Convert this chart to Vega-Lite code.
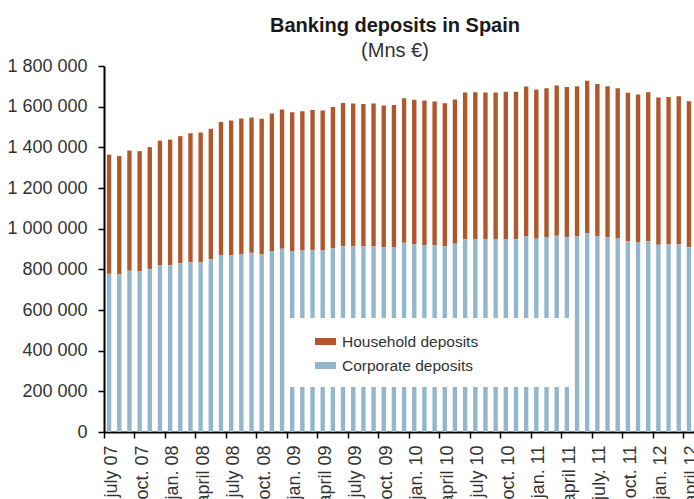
{
  "$schema": "https://vega.github.io/schema/vega-lite/v6.json",
  "autosize": "none",
  "width": 590,
  "height": 366,
  "padding": {"left": 104, "top": 66, "right": 0, "bottom": 67},
  "background": "white",
  "title": {
    "text": "Banking deposits in Spain",
    "subtitle": "(Mns €)",
    "anchor": "middle",
    "frame": "group",
    "font": "Liberation Sans",
    "fontSize": 20,
    "fontWeight": "bold",
    "color": "#1a1a1a",
    "subtitleFont": "Liberation Sans",
    "subtitleFontSize": 20,
    "subtitleColor": "#333333",
    "subtitlePadding": 5,
    "offset": 1,
    "dx": -4,
    "dy": 5
  },
  "data": {
    "values": [
      {"month": "july 07", "Corporate deposits": 778000, "Household deposits": 586000},
      {"month": "aug 07", "Corporate deposits": 775000, "Household deposits": 582000},
      {"month": "sept 07", "Corporate deposits": 793000, "Household deposits": 591000},
      {"month": "oct. 07", "Corporate deposits": 790000, "Household deposits": 591000},
      {"month": "nov 07", "Corporate deposits": 801000, "Household deposits": 600000},
      {"month": "dec 07", "Corporate deposits": 819000, "Household deposits": 614000},
      {"month": "jan. 08", "Corporate deposits": 819000, "Household deposits": 619000},
      {"month": "feb 08", "Corporate deposits": 829000, "Household deposits": 626000},
      {"month": "march 08", "Corporate deposits": 835000, "Household deposits": 634000},
      {"month": "april 08", "Corporate deposits": 835000, "Household deposits": 638000},
      {"month": "may 08", "Corporate deposits": 849000, "Household deposits": 643000},
      {"month": "june 08", "Corporate deposits": 870000, "Household deposits": 654000},
      {"month": "july 08", "Corporate deposits": 868000, "Household deposits": 664000},
      {"month": "aug 08", "Corporate deposits": 875000, "Household deposits": 667000},
      {"month": "sept 08", "Corporate deposits": 882000, "Household deposits": 665000},
      {"month": "oct. 08", "Corporate deposits": 873000, "Household deposits": 667000},
      {"month": "nov 08", "Corporate deposits": 890000, "Household deposits": 677000},
      {"month": "dec 08", "Corporate deposits": 901000, "Household deposits": 685000},
      {"month": "jan. 09", "Corporate deposits": 890000, "Household deposits": 682000},
      {"month": "feb 09", "Corporate deposits": 893000, "Household deposits": 685000},
      {"month": "march 09", "Corporate deposits": 894000, "Household deposits": 689000},
      {"month": "april 09", "Corporate deposits": 893000, "Household deposits": 688000},
      {"month": "may 09", "Corporate deposits": 904000, "Household deposits": 694000},
      {"month": "june 09", "Corporate deposits": 913000, "Household deposits": 705000},
      {"month": "july 09", "Corporate deposits": 913000, "Household deposits": 703000},
      {"month": "aug 09", "Corporate deposits": 913000, "Household deposits": 700000},
      {"month": "sept 09", "Corporate deposits": 914000, "Household deposits": 701000},
      {"month": "oct. 09", "Corporate deposits": 908000, "Household deposits": 698000},
      {"month": "nov 09", "Corporate deposits": 910000, "Household deposits": 698000},
      {"month": "dec 09", "Corporate deposits": 931000, "Household deposits": 711000},
      {"month": "jan. 10", "Corporate deposits": 923000, "Household deposits": 711000},
      {"month": "feb 10", "Corporate deposits": 919000, "Household deposits": 711000},
      {"month": "march 10", "Corporate deposits": 919000, "Household deposits": 706000},
      {"month": "april 10", "Corporate deposits": 914000, "Household deposits": 703000},
      {"month": "may 10", "Corporate deposits": 926000, "Household deposits": 709000},
      {"month": "june 10", "Corporate deposits": 947000, "Household deposits": 723000},
      {"month": "july 10", "Corporate deposits": 947000, "Household deposits": 724000},
      {"month": "aug 10", "Corporate deposits": 947000, "Household deposits": 723000},
      {"month": "sept 10", "Corporate deposits": 947000, "Household deposits": 723000},
      {"month": "oct. 10", "Corporate deposits": 947000, "Household deposits": 726000},
      {"month": "nov 10", "Corporate deposits": 948000, "Household deposits": 725000},
      {"month": "dec 10", "Corporate deposits": 963000, "Household deposits": 736000},
      {"month": "jan. 11", "Corporate deposits": 951000, "Household deposits": 733000},
      {"month": "feb 11", "Corporate deposits": 957000, "Household deposits": 734000},
      {"month": "march 11", "Corporate deposits": 965000, "Household deposits": 739000},
      {"month": "april 11", "Corporate deposits": 958000, "Household deposits": 739000},
      {"month": "may 11", "Corporate deposits": 963000, "Household deposits": 738000},
      {"month": "june 11", "Corporate deposits": 978000, "Household deposits": 749000},
      {"month": "july. 11", "Corporate deposits": 963000, "Household deposits": 749000},
      {"month": "aug 11", "Corporate deposits": 958000, "Household deposits": 742000},
      {"month": "sept 11", "Corporate deposits": 952000, "Household deposits": 738000},
      {"month": "oct. 11", "Corporate deposits": 938000, "Household deposits": 731000},
      {"month": "nov 11", "Corporate deposits": 932000, "Household deposits": 728000},
      {"month": "dec 11", "Corporate deposits": 938000, "Household deposits": 733000},
      {"month": "jan. 12", "Corporate deposits": 921000, "Household deposits": 724000},
      {"month": "feb 12", "Corporate deposits": 923000, "Household deposits": 724000},
      {"month": "march 12", "Corporate deposits": 923000, "Household deposits": 728000},
      {"month": "april 12", "Corporate deposits": 909000, "Household deposits": 718000}
    ]
  },
  "transform": [
    {"fold": ["Household deposits", "Corporate deposits"], "as": ["type", "value"]}
  ],
  "mark": {"type": "bar", "width": {"band": 0.43}},
  "encoding": {
    "x": {
      "field": "month",
      "type": "ordinal",
      "sort": null,
      "scale": {"paddingInner": 0, "paddingOuter": 0},
      "axis": {
        "values": ["july 07", "oct. 07", "jan. 08", "april 08", "july 08", "oct. 08", "jan. 09", "april 09", "july 09", "oct. 09", "jan. 10", "april 10", "july 10", "oct. 10", "jan. 11", "april 11", "july. 11", "oct. 11", "jan. 12", "april 12"],
        "bandPosition": 0,
        "title": null,
        "labelAngle": 270,
        "labelAlign": "right",
        "labelBaseline": "middle",
        "labelPadding": 7,
        "labelOffset": 3,
        "labelFont": "Liberation Sans",
        "labelFontSize": 18,
        "labelColor": "#333333",
        "labelOverlap": false,
        "labelBound": false,
        "tickSize": 6,
        "tickColor": "black",
        "tickWidth": 1.5,
        "domainColor": "black",
        "domainWidth": 2,
        "grid": false
      }
    },
    "y": {
      "field": "value",
      "type": "quantitative",
      "stack": "zero",
      "scale": {"domain": [0, 1800000], "nice": false},
      "axis": {
        "values": [0, 200000, 400000, 600000, 800000, 1000000, 1200000, 1400000, 1600000, 1800000],
        "format": ",d",
        "title": null,
        "grid": false,
        "labelFont": "Liberation Sans",
        "labelFontSize": 18,
        "labelColor": "#333333",
        "labelPadding": 11,
        "tickSize": 6,
        "tickColor": "black",
        "tickWidth": 1.5,
        "domainColor": "black",
        "domainWidth": 2
      }
    },
    "color": {
      "field": "type",
      "type": "nominal",
      "scale": {"domain": ["Household deposits", "Corporate deposits"], "range": ["#AF582C", "#94B6CC"]},
      "legend": {
        "orient": "none",
        "legendX": 181,
        "legendY": 252,
        "title": null,
        "fillColor": "white",
        "padding": 13,
        "symbolType": "M-1,-0.333H1V0.333H-1Z",
        "symbolSize": 441,
        "symbolStrokeWidth": 0,
        "symbolOffset": 17,
        "rowPadding": 5,
        "labelFont": "Liberation Sans",
        "labelFontSize": 15.5,
        "labelColor": "#333333",
        "labelOffset": 6,
        "labelLimit": 400,
        "labelExpr": "datum.label + '\u00a0\u00a0\u00a0\u00a0\u00a0\u00a0\u00a0\u00a0\u00a0\u00a0\u00a0\u00a0\u00a0\u00a0\u00a0\u00a0\u00a0\u00a0\u200b'"
      }
    },
    "order": {"field": "type", "sort": "ascending"}
  },
  "config": {
    "view": {"stroke": null},
    "locale": {"number": {"decimal": ",", "thousands": " ", "grouping": [3], "currency": ["", " €"]}}
  }
}
